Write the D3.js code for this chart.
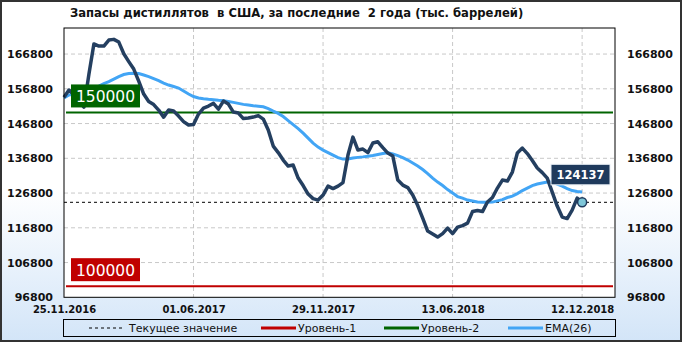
<!DOCTYPE html>
<html>
<head>
<meta charset="utf-8">
<script src="https://cdn.jsdelivr.net/npm/d3@7"></script>
<style>
  body { margin: 0; }
  text { font-family: "DejaVu Sans", sans-serif; }
</style>
</head>
<body>
<div id="chart"></div>
<script>
// Weekly distillate stocks (thousand barrels)
const stocks = [
  154400, 156450, 155000, 153270, 151500, 161000, 169700, 169100, 169100, 170830,
  171030, 170250, 166900, 164640, 162480, 159030, 155290, 153130, 152270, 150680,
  148650, 150680, 150390, 148960, 147370, 146370, 146510, 149530, 151260, 151830,
  152610, 150970, 153270, 152410, 150110, 149820, 148240, 148380, 148670, 149100,
  148090, 144930, 140320, 138450, 136290, 134570, 134850, 131110, 128960, 126510,
  125210, 124780, 126220, 128810, 128090, 128810, 129820, 137730, 142910, 139170,
  139460, 138450, 141190, 141560, 139890, 138310, 137450, 130540, 129100, 128380,
  126220, 123200, 119600, 115860, 115000, 114130, 115140, 116720, 115140, 117010,
  117440, 118160, 121470, 121760, 121470, 124210, 125510, 128240, 130540, 130250,
  132840, 138310, 139750, 138160, 136150, 133990, 132690, 131110, 127080, 123050,
  119890, 119460, 121900, 125350, 124137
];

// EMA(26) line
const ema = [
  154140, 155000, 155290, 155580, 155580, 156150, 157010, 157590, 158310, 158890,
  159610, 160330, 160900, 161190, 161250, 161190, 160760, 160330, 159750, 159170,
  158450, 157880, 157450, 157010, 156150, 155290, 154570, 154140, 153940, 153790,
  153680, 153500, 153360, 153130, 152900, 152610, 152320, 152120, 151920, 151780,
  151630, 151110, 150390, 149730, 148810, 147660, 146510, 145360, 144060, 142620,
  141190, 140040, 139170, 138450, 137730, 137010, 136580, 136580, 136870, 137070,
  137210, 137390, 137590, 137880, 138160, 138370, 138080, 137590, 137010, 136290,
  135430, 134570, 133560, 132410, 131110, 129960, 128960, 127800, 126800, 125790,
  125350, 124780, 124490, 124200, 124120, 124120, 124200, 124550, 124920, 125510,
  125930, 126650, 127520, 128240, 128960, 129390, 129670, 129960, 129960, 129390,
  128810, 128090, 127520, 127230, 127080
];

const tickIndex = [0, 26, 52, 78, 104];
const tickLabels = ["25.11.2016", "01.06.2017", "29.11.2017", "13.06.2018", "12.12.2018"];
const yTicks = [96800, 106800, 116800, 126800, 136800, 146800, 156800, 166800];
const level1 = 100000;
const level2 = 150000;
const current = stocks[stocks.length - 1];

const width = 682, height = 342;
const plot = { left: 64, right: 615, top: 28, bottom: 297.3 };

const svg = d3.select("#chart").append("svg")
  .attr("width", width)
  .attr("height", height);

// background gradient
const defs = svg.append("defs");
const grad = defs.append("linearGradient").attr("id", "bg")
  .attr("x1", 0).attr("y1", 0).attr("x2", 0).attr("y2", 1);
grad.append("stop").attr("offset", "0%").attr("stop-color", "#ffffff");
grad.append("stop").attr("offset", "55%").attr("stop-color", "#ffffff");
grad.append("stop").attr("offset", "100%").attr("stop-color", "#d3e5f8");

svg.append("rect")
  .attr("x", 1).attr("y", 1)
  .attr("width", width - 2).attr("height", height - 2)
  .attr("fill", "url(#bg)")
  .attr("stroke", "#333").attr("stroke-width", 2);

// scales
const x = d3.scaleLinear().domain([0, 110.6]).range([plot.left, plot.right]);
const y = d3.scaleLinear().domain([96800, 174300]).range([plot.bottom, plot.top]);

// plot area
svg.append("rect")
  .attr("x", plot.left).attr("y", plot.top)
  .attr("width", plot.right - plot.left).attr("height", plot.bottom - plot.top)
  .attr("fill", "#fff");

// grid
svg.append("g").selectAll("line")
  .data(yTicks.slice(1))
  .join("line")
  .attr("x1", plot.left).attr("x2", plot.right)
  .attr("y1", d => y(d)).attr("y2", d => y(d))
  .attr("stroke", "#c8c8c8").attr("stroke-dasharray", "4,3");

svg.append("g").selectAll("line")
  .data(tickIndex.slice(1))
  .join("line")
  .attr("x1", d => x(d)).attr("x2", d => x(d))
  .attr("y1", plot.top).attr("y2", plot.bottom)
  .attr("stroke", "#c8c8c8").attr("stroke-dasharray", "4,3");

// axes
const styleAxis = g => {
  g.select(".domain").remove();
  g.selectAll("text").attr("fill", "#111").style("font-weight", "bold");
};

svg.append("g")
  .attr("transform", `translate(${plot.left},0)`)
  .call(d3.axisLeft(y).tickValues(yTicks).tickSize(0).tickPadding(11).tickFormat(d3.format("d")))
  .call(styleAxis)
  .selectAll("text").style("font-size", "11px");

svg.append("g")
  .attr("transform", `translate(${plot.right},0)`)
  .call(d3.axisRight(y).tickValues(yTicks).tickSize(0).tickPadding(12).tickFormat(d3.format("d")))
  .call(styleAxis)
  .selectAll("text").style("font-size", "11px");

svg.append("g")
  .attr("transform", `translate(0,${plot.bottom})`)
  .call(d3.axisBottom(x).tickValues(tickIndex).tickSize(0).tickPadding(8.5)
    .tickFormat((d, i) => tickLabels[i]))
  .call(styleAxis)
  .selectAll("text").style("font-size", "10px");

// level lines
svg.append("line")
  .attr("x1", plot.left + 2).attr("x2", plot.right - 2)
  .attr("y1", y(level2)).attr("y2", y(level2))
  .attr("stroke", "#006400").attr("stroke-width", 2);

svg.append("line")
  .attr("x1", plot.left + 2).attr("x2", plot.right - 2)
  .attr("y1", y(level1)).attr("y2", y(level1))
  .attr("stroke", "#c00000").attr("stroke-width", 2);

// current value line
svg.append("line")
  .attr("x1", plot.left).attr("x2", plot.right)
  .attr("y1", y(current)).attr("y2", y(current))
  .attr("stroke", "#000").attr("stroke-dasharray", "3,3");

// series
const line = d3.line().x((d, i) => x(i)).y(d => y(d));

svg.append("path")
  .datum(ema)
  .attr("d", line)
  .attr("fill", "none")
  .attr("stroke", "#42a5f5")
  .attr("stroke-width", 3);

svg.append("path")
  .datum(stocks)
  .attr("d", line)
  .attr("fill", "none")
  .attr("stroke", "#243f60")
  .attr("stroke-width", 3.5)
  .attr("stroke-linejoin", "round");

// plot border
svg.append("rect")
  .attr("x", plot.left).attr("y", plot.top)
  .attr("width", plot.right - plot.left).attr("height", plot.bottom - plot.top)
  .attr("fill", "none").attr("stroke", "#000");

// level labels
const levelLabel = (value, color) => {
  const g = svg.append("g").attr("transform", `translate(71,${y(value) - 28})`);
  g.append("rect").attr("width", 69).attr("height", 23).attr("fill", color);
  g.append("text")
    .attr("x", 34.5).attr("y", 17.5)
    .attr("text-anchor", "middle")
    .attr("fill", "#fff")
    .style("font-size", "15.5px")
    .text(value);
};
levelLabel(level2, "#006400");
levelLabel(level1, "#c00000");

// last point marker + value box
svg.append("circle")
  .attr("cx", x(stocks.length - 1)).attr("cy", y(current))
  .attr("r", 4.5)
  .attr("fill", "#7fc7d9")
  .attr("stroke", "#1f3a5c").attr("stroke-width", 1.5);

const vb = svg.append("g").attr("transform", `translate(551,${y(current) - 38})`);
vb.append("rect")
  .attr("width", 59).attr("height", 20.5)
  .attr("fill", "#1f3a5c")
  .attr("stroke", "#e8eef5").attr("stroke-width", 1);
vb.append("text")
  .attr("x", 29.5).attr("y", 14.5)
  .attr("text-anchor", "middle")
  .attr("fill", "#fff")
  .style("font-size", "11.5px").style("font-weight", "bold")
  .text(current);

// title
svg.append("text")
  .attr("x", 70).attr("y", 17)
  .attr("fill", "#111")
  .style("font-size", "11.6px").style("font-weight", "bold")
  .style("white-space", "pre")
  .text("Запасы дистиллятов  в США, за последние  2 года (тыс. баррелей)");

// legend
const legend = svg.append("g");
legend.append("rect")
  .attr("x", 63.5).attr("y", 319.5)
  .attr("width", 552).attr("height", 17)
  .attr("fill", "none").attr("stroke", "#000");

const legendItems = [
  { label: "Текущее значение", color: "#000", dash: "3,3", w: 1, x: 89 },
  { label: "Уровень-1", color: "#c00000", dash: null, w: 3, x: 261 },
  { label: "Уровень-2", color: "#006400", dash: null, w: 3, x: 384 },
  { label: "EMA(26)", color: "#42a5f5", dash: null, w: 3, x: 508 }
];

const li = legend.selectAll("g.item").data(legendItems).join("g")
  .attr("class", "item")
  .attr("transform", d => `translate(${d.x},328)`);
li.append("line")
  .attr("x1", 0).attr("x2", 35)
  .attr("stroke", d => d.color)
  .attr("stroke-width", d => d.w)
  .attr("stroke-dasharray", d => d.dash);
li.append("text")
  .attr("x", d => d.dash ? 40 : 37).attr("y", 4)
  .attr("fill", "#111")
  .style("font-size", "11px")
  .text(d => d.label);
</script>
</body>
</html>
